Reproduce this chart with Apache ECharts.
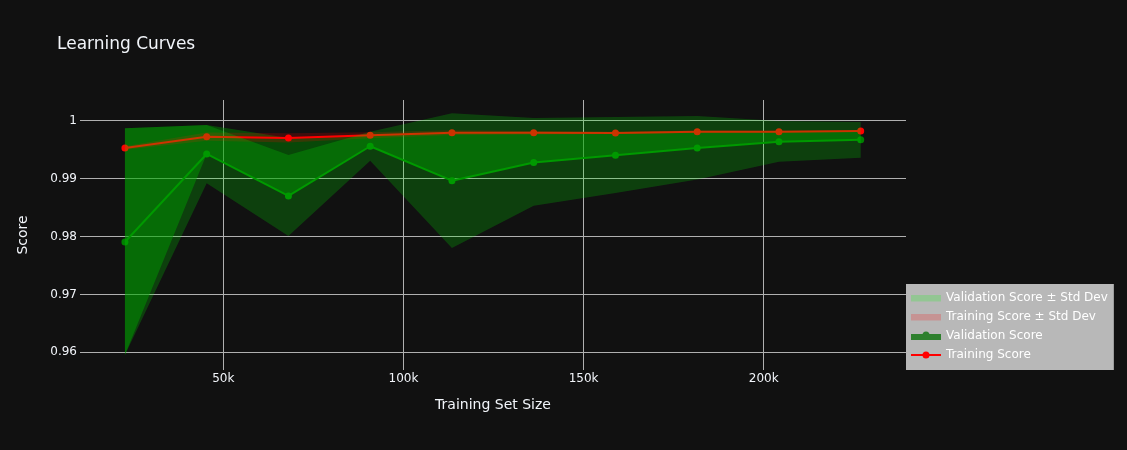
<!DOCTYPE html>
<html><head><meta charset="utf-8">
<script src="https://cdn.jsdelivr.net/npm/echarts@6/dist/echarts.min.js"></script>
<style>html,body{margin:0;padding:0;background:#111111;}#c{width:1127px;height:450px;}</style>
</head><body><div id="c"></div>
<script>
// ---- data ----
const trainSizes = [22693, 45386, 68079, 90772, 113465, 136158, 158851, 181544, 204237, 226930];
const trainMean  = [0.99528, 0.99724, 0.99701, 0.99748, 0.99793, 0.99793, 0.99788, 0.99810, 0.99810, 0.99822];
const trainStd   = [0.0003, 0.0007, 0.0008, 0.0005, 0.0004, 0.0003, 0.0002, 0.0002, 0.00015, 0.0001];
const valMean    = [0.97905, 0.99425, 0.98700, 0.99558, 0.98964, 0.99278, 0.99402, 0.99528, 0.99637, 0.99672];
const valUpper   = [0.99869, 0.99926, 0.99408, 0.99807, 1.00128, 1.00045, 1.00065, 1.00081, 0.99995, 0.99978];
const valLower   = [0.95953, 0.98919, 0.98009, 0.99309, 0.97801, 0.98532, 0.98751, 0.98985, 0.99292, 0.99361];
const xTicks = [50000, 100000, 150000, 200000];
const yTicks = [0.96, 0.97, 0.98, 0.99, 1];

const FONT = 'DejaVu Sans';
const TXT = '#f2f5fa';
const GRID = '#b0b0b0';

const pts = arr => trainSizes.map((x, i) => [x, arr[i]]);
const trainUp = trainMean.map((m, i) => m + trainStd[i]);
const trainLow = trainMean.map((m, i) => m - trainStd[i]);
// the validation-score fill as it appears in the reference (it starts from the std band at the left end)
const gapTop = [valUpper[0], valUpper[1]].concat(trainMean.slice(2));
const gapBottom = [valLower[0]].concat(valMean.slice(1));

// polygon between two curves, positioned through the axes' scales
function bandRender(upperArr, lowerArr, color) {
  return function (params, api) {
    const up = trainSizes.map((x, i) => api.coord([x, upperArr[i]]));
    const lo = trainSizes.map((x, i) => api.coord([x, lowerArr[i]])).reverse();
    return {type: 'polygon', silent: true, shape: {points: up.concat(lo)}, style: {fill: color}};
  };
}

const chart = echarts.init(document.getElementById('c'), null, {renderer: 'canvas'});
const bar = 'path://M0,0h0.01v0.01h-0.01zM29.99,13.99h0.01v0.01h-0.01zM0,4h30v6.5h-30z';
const lineIcon = 'path://M0,0h0.01v0.01h-0.01zM29.99,13.99h0.01v0.01h-0.01zM0,6h30v2h-30zM18.5,7a3.5,3.5 0 1,1 -7,0a3.5,3.5 0 1,1 7,0z';
const fillIcon = 'path://M0,0h0.01v0.01h-0.01zM29.99,13.99h0.01v0.01h-0.01zM0,5h30v6h-30zM18.5,6a3.5,3.5 0 1,1 -7,0a3.5,3.5 0 1,1 7,0z';

chart.setOption({
  backgroundColor: '#111111',
  animation: false,
  textStyle: {fontFamily: FONT},
  title: {
    text: 'Learning Curves', left: 57, top: 36, padding: 0,
    textStyle: {color: TXT, fontSize: 17, fontWeight: 'normal', fontFamily: FONT}
  },
  grid: {left: 80, right: 221, top: 100, bottom: 80},
  legend: {
    orient: 'vertical', left: 906, top: 284,
    itemWidth: 30, itemHeight: 14, itemGap: 5,
    padding: [7, 6, 8, 5],
    backgroundColor: '#b8b8b8', borderRadius: 0,
    selectedMode: false,
    textStyle: {color: '#ffffff', fontSize: 12, fontFamily: FONT},
    data: [
      {name: 'Validation Score ± Std Dev', icon: bar, itemStyle: {color: 'rgba(0,255,0,0.2)', borderWidth: 0}},
      {name: 'Training Score ± Std Dev', icon: bar, itemStyle: {color: 'rgba(255,0,0,0.2)', borderWidth: 0}},
      {name: 'Validation Score', icon: fillIcon, itemStyle: {color: 'rgba(0,110,0,0.75)', borderWidth: 0}},
      {name: 'Training Score', icon: lineIcon, itemStyle: {color: '#ff0000', borderWidth: 0}}
    ]
  },
  xAxis: {
    type: 'value', min: 10225, max: 239500,
    name: 'Training Set Size', nameLocation: 'middle', nameGap: 28,
    nameTextStyle: {color: TXT, fontSize: 14, fontFamily: FONT},
    axisLine: {show: false},
    axisTick: {show: false, customValues: xTicks},
    axisLabel: {customValues: xTicks, color: TXT, fontSize: 12, margin: 3, fontFamily: FONT,
      formatter: v => (v / 1000) + 'k'},
    splitLine: {show: true, lineStyle: {color: GRID, width: 1}}
  },
  yAxis: {
    type: 'value', min: 0.95694, max: 1.00357,
    name: 'Score', nameLocation: 'middle', nameGap: 50,
    nameTextStyle: {color: TXT, fontSize: 14, fontFamily: FONT},
    axisLine: {show: false},
    axisTick: {show: false, customValues: yTicks},
    axisLabel: {customValues: yTicks, color: TXT, fontSize: 12, margin: 3, fontFamily: FONT,
      formatter: v => String(parseFloat(Number(v).toFixed(2)))},
    splitLine: {show: true, lineStyle: {color: GRID, width: 1}}
  },
  series: [
    {
      name: '_gap_fill', type: 'custom', coordinateSystem: 'cartesian2d',
      data: [[trainSizes[0], valMean[0]]], silent: true, z: 1,
      renderItem: bandRender(gapTop, gapBottom, 'rgba(0,128,0,0.5)')
    },
    {
      name: 'Training Score', type: 'line', data: pts(trainMean),
      symbol: 'circle', symbolSize: 7, showAllSymbol: true,
      lineStyle: {color: '#ff0000', width: 2}, itemStyle: {color: '#ff0000'}, z: 2
    },
    {
      name: 'Validation Score', type: 'line', data: pts(valMean),
      symbol: 'circle', symbolSize: 7, showAllSymbol: true,
      lineStyle: {color: '#008000', width: 2}, itemStyle: {color: '#008000'}, z: 3
    },
    {
      name: 'Training Score ± Std Dev', type: 'custom', coordinateSystem: 'cartesian2d',
      data: [[trainSizes[0], trainMean[0]]], silent: true, z: 5,
      itemStyle: {color: 'rgba(255,0,0,0.2)'},
      renderItem: bandRender(trainUp, trainLow, 'rgba(255,0,0,0.2)')
    },
    {
      name: 'Validation Score ± Std Dev', type: 'custom', coordinateSystem: 'cartesian2d',
      data: [[trainSizes[0], valMean[0]]], silent: true, z: 6,
      itemStyle: {color: 'rgba(0,255,0,0.2)'},
      renderItem: bandRender(valUpper, valLower, 'rgba(0,255,0,0.2)')
    }
  ]
});
</script></body></html>
